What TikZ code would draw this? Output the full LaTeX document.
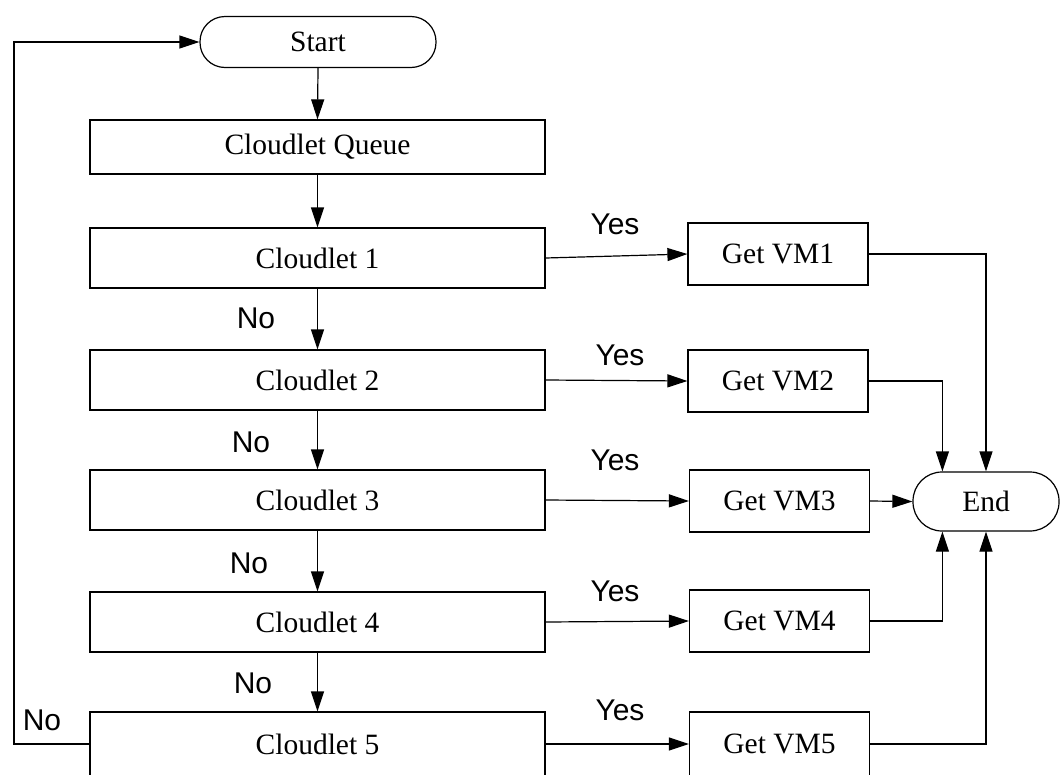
\documentclass[tikz,border=0pt]{standalone}
\usepackage{fontspec}
\setmainfont{Liberation Serif}
\newfontfamily\labelfont{Liberation Sans}
\usetikzlibrary{arrows.meta}
\tikzset{
  box/.style={draw, line width=1.2pt, minimum width=455pt, minimum height=60pt,
    inner sep=0pt, font=\fontsize{29.5}{31}\selectfont},
  vmbox/.style={box, minimum width=180pt, minimum height=62pt},
  term/.style={draw, line width=1.2pt, rounded corners=#1, inner sep=0pt,
    font=\fontsize{29.5}{31}\selectfont},
  arr/.style={line width=1.2pt, -{Triangle[length=20pt,width=13pt]}},
  lbl/.style={font=\labelfont\fontsize{30}{32}\selectfont, inner sep=0pt}
}
\begin{document}
\begin{tikzpicture}[x=1pt, y=-1pt]
\useasboundingbox (0,0) rectangle (1060,774);

% terminals
\node[term=25pt, minimum width=236pt, minimum height=51pt] (start) at (318,42) {Start};
\node[term=29pt, minimum width=146pt, minimum height=59pt] (end) at (986,501.5) {End};

% main column
\node[box, minimum height=54pt] (cq) at (317.5,147) {Cloudlet Queue};
\node[box] (c1) at (317.5,258) {Cloudlet 1};
\node[box] (c2) at (317.5,380) {Cloudlet 2};
\node[box] (c3) at (317.5,500) {Cloudlet 3};
\node[box] (c4) at (317.5,622) {Cloudlet 4};
\node[box, minimum height=64pt] (c5) at (317.5,744) {Cloudlet 5};

% VM column
\node[vmbox] (vm1) at (778,254) {Get VM1};
\node[vmbox] (vm2) at (778,381) {Get VM2};
\node[vmbox] (vm3) at (779.5,501) {Get VM3};
\node[vmbox] (vm4) at (779.5,621) {Get VM4};
\node[vmbox, minimum height=64pt] (vm5) at (779.5,744) {Get VM5};

% flow down the column
\draw[arr] (start.south) -- (cq.north);
\draw[arr] (cq.south) -- (c1.north);
\draw[arr] (c1.south) -- (c2.north);
\draw[arr] (c2.south) -- (c3.north);
\draw[arr] (c3.south) -- (c4.north);
\draw[arr] (c4.south) -- (c5.north);

% return to start
\coordinate (loop) at (14,744);
\draw[arr] (c5.west) -- (loop) |- (start.west);

% yes branches
\draw[arr] (c1.east) -- (vm1.west);
\draw[arr] (c2.east) -- (vm2.west);
\draw[arr] (c3.east) -- (vm3.west);
\draw[arr] (c4.east) -- (vm4.west);
\draw[arr] (c5.east) -- (vm5.west);

% into End
\coordinate (etl) at ([xshift=30pt]end.north west);
\coordinate (ebl) at ([xshift=30pt]end.south west);
\draw[arr] (vm1.east) -| (end.north);
\draw[arr] (vm2.east) -| (etl);
\draw[arr] (vm3.east) -- (end.west);
\draw[arr] (vm4.east) -| (ebl);
\draw[arr] (vm5.east) -| (end.south);

% labels
\node[lbl] (y1) at (615,224) {Yes};
\node[lbl] (y2) at (620,355) {Yes};
\node[lbl] (y3) at (615,460) {Yes};
\node[lbl] (y4) at (615,591) {Yes};
\node[lbl] (y5) at (620,710) {Yes};
\node[lbl] (n1) at (256,318) {No};
\node[lbl] (n2) at (251,442) {No};
\node[lbl] (n3) at (249,563) {No};
\node[lbl] (n4) at (253,683) {No};
\node[lbl] (n5) at (42,720) {No};
\end{tikzpicture}
\end{document}
